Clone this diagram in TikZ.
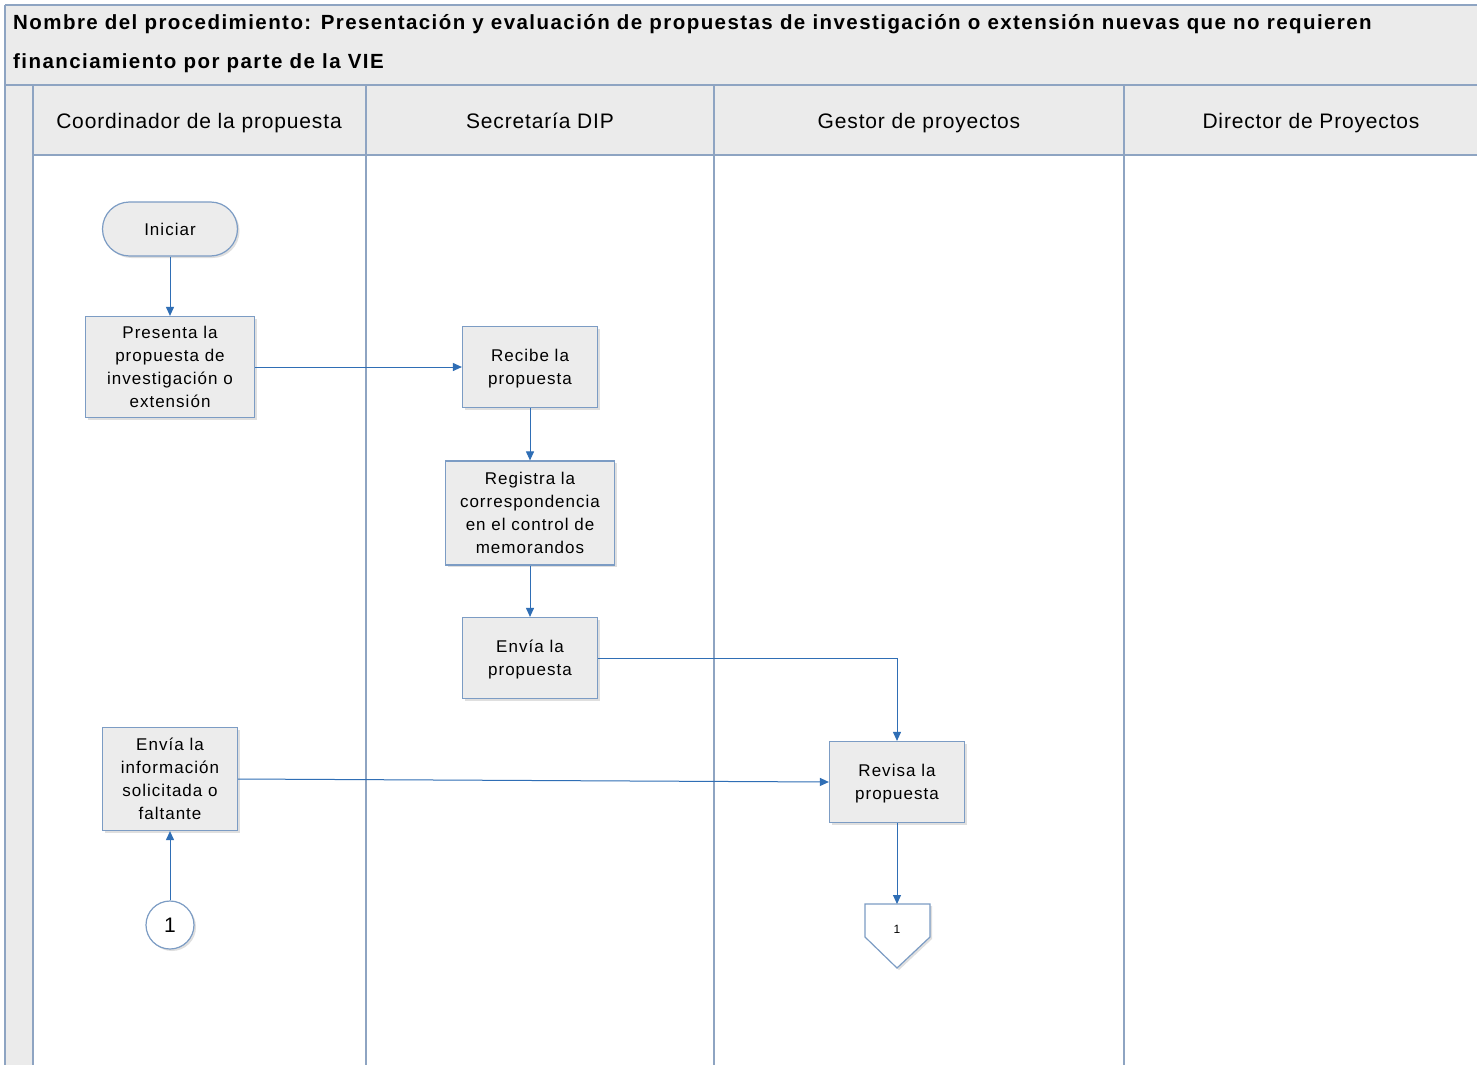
\documentclass[tikz,border=0pt]{standalone}
\usepackage{fontspec}
\setmainfont{Liberation Sans}
\newfontfamily\boxfont{Liberation Sans}[LetterSpace=6]
\newfontfamily\headfont{Liberation Sans}[LetterSpace=4]
\newfontfamily\titlefont{Liberation Sans}[LetterSpace=7]
\usetikzlibrary{arrows.meta,shadows}
\definecolor{laneline}{HTML}{8EA4C2}
\definecolor{boxline}{HTML}{7C9CC4}
\definecolor{flowblue}{HTML}{2F6EB5}
\definecolor{boxfill}{HTML}{ECECEC}
\definecolor{headfill}{HTML}{EBEBEB}

\begin{document}
\begin{tikzpicture}[x=1pt, y=-1pt,
    lane/.style={draw=laneline, line width=1.2pt},
    lanehead/.style={anchor=base, font=\headfont\fontsize{21}{25}\selectfont},
    proc/.style={draw=boxline, fill=boxfill, line width=1.2pt, align=center,
      inner sep=0pt, font=\boxfont\fontsize{17}{23}\selectfont,
      drop shadow={shadow xshift=2pt, shadow yshift=-2pt, opacity=0.25}},
    flow/.style={draw=flowblue, line width=1pt, -{Triangle[length=9pt,width=8pt]}}]
    \useasboundingbox (0,0) rectangle (1477,1065);

    % fondos
    \fill[white] (0,0) rectangle (1477,1065);
    \fill[headfill] (5,5) rectangle (1477,85);
    \fill[headfill] (5,85) rectangle (33,1065);
    \fill[headfill] (33,85) rectangle (1477,155);

    % carriles
    \draw[lane] (5,5) -- (1477,5);
    \draw[lane] (5,5) -- (5,1065);
    \draw[lane] (5,85) -- (1477,85);
    \draw[lane] (33,155) -- (1477,155);
    \draw[lane] (33,85) -- (33,1065);
    \draw[lane] (366,85) -- (366,1065);
    \draw[lane] (714,85) -- (714,1065);
    \draw[lane] (1124,85) -- (1124,1065);

    \node[anchor=base west, font=\titlefont\fontsize{20.5}{24}\selectfont\bfseries, inner sep=0pt] (title1) at (13,30)
      {Nombre del procedimiento: Presentación y evaluación de propuestas de investigación o extensión nuevas que no requieren};
    \node[anchor=base west, font=\titlefont\fontsize{20.5}{24}\selectfont\bfseries, inner sep=0pt] (title2) at (13,68)
      {financiamiento por parte de la VIE};

    \node[lanehead] (coord) at (199,128) {Coordinador de la propuesta};
    \node[lanehead] (secre) at (540,128) {Secretaría DIP};
    \node[lanehead] (gestor) at (919,128) {Gestor de proyectos};
    \node[lanehead] (direc) at (1311,128) {Director de Proyectos};

    % pasos
    \node[proc, rounded corners=27pt, minimum width=135pt, minimum height=54pt] (ini) at (170,229) {Iniciar};
    \node[proc, minimum width=169pt, minimum height=101pt] (pres) at (170,367)
      {Presenta la\\propuesta de\\investigación o\\extensión};
    \node[proc, minimum width=135pt, minimum height=81pt, text depth=0pt] (rec) at (530,367) {Recibe la\\propuesta};
    \node[proc, minimum width=169pt, minimum height=104pt] (reg) at (530,513)
      {Registra la\\correspondencia\\en el control de\\memorandos};
    \node[proc, minimum width=135pt, minimum height=81pt, text depth=0pt] (env) at (530,658) {Envía la\\propuesta};
    \node[proc, minimum width=135pt, minimum height=103pt] (info) at (170,779)
      {Envía la\\información\\solicitada o\\faltante};
    \node[proc, minimum width=135pt, minimum height=81pt, text depth=0pt] (rev) at (897,782) {Revisa la\\propuesta};

    \node[circle, draw=boxline, fill=white, line width=1.2pt, minimum size=48pt, inner sep=0pt,
      font=\fontsize{21}{25}\selectfont,
      drop shadow={shadow xshift=2pt, shadow yshift=-2pt, opacity=0.25}] (c1) at (170,925) {1};

    \coordinate (offtop) at (897,904);
    \draw[draw=boxline, fill=white, line width=1.2pt,
      drop shadow={shadow xshift=2pt, shadow yshift=-2pt, opacity=0.25}]
      (865,904) -- (930,904) -- (930,937) -- (897,968) -- (865,937) -- cycle;
    \node[font=\fontsize{12}{14}\selectfont] (off1) at (897,929) {1};

    % flechas
    \draw[flow] (ini) -- (pres);
    \draw[flow] (pres) -- (rec);
    \draw[flow] (rec) -- (reg);
    \draw[flow] (reg) -- (env);
    \draw[flow] (env.east) -| (rev.north);
    \draw[flow] (info.east) -- (rev.west);
    \draw[flow] (c1) -- (info);
    \draw[flow] (rev) -- (offtop);
\end{tikzpicture}
\end{document}
